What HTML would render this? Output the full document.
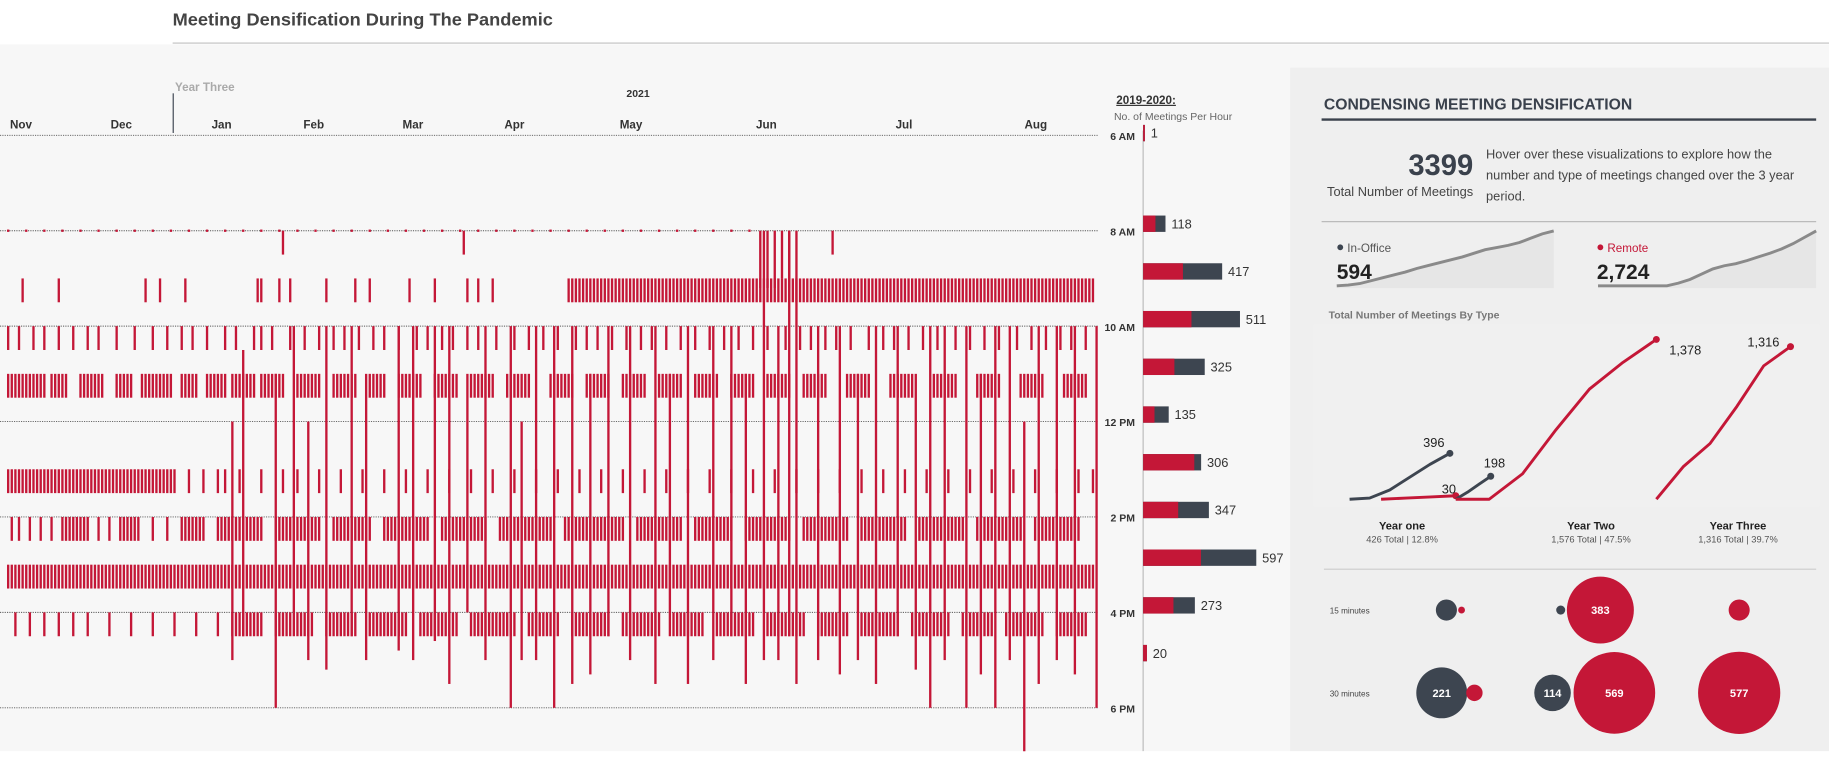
<!DOCTYPE html>
<html><head><meta charset="utf-8">
<style>
html,body{margin:0;padding:0;width:1829px;height:751px;overflow:hidden;background:#fff}
#root{position:absolute;left:0;top:0;width:1568px;height:644px;transform:scale(1.16645);transform-origin:0 0;font-family:"Liberation Sans",sans-serif}
svg text{font-family:"Liberation Sans",sans-serif}
</style></head><body>
<div id="root">
<svg id="svg" width="1568" height="644" viewBox="0 0 1568 644" xmlns="http://www.w3.org/2000/svg">
<rect x="0" y="38" width="1568" height="606" fill="#f7f7f7"/>
<rect x="1106" y="58" width="462" height="586" fill="#efefef"/>
<text x="148" y="22" font-size="15" font-weight="bold" fill="#444" textLength="326" lengthAdjust="spacingAndGlyphs">Meeting Densification During The Pandemic</text>
<line x1="148" y1="37" x2="1568" y2="37" stroke="#d6d6d6" stroke-width="1.5"/>
<g id="strip"></g>
<g id="hourbars"></g>
<g id="panel">
<text x="1135" y="94" font-size="13.5" font-weight="bold" fill="#3a414c">CONDENSING MEETING DENSIFICATION</text>
<line x1="1133" y1="102.5" x2="1557" y2="102.5" stroke="#3a414c" stroke-width="2"/>
<text x="1263" y="150" font-size="25" font-weight="bold" fill="#3a414c" text-anchor="end">3399</text>
<text x="1263" y="168" font-size="11" fill="#444" text-anchor="end">Total Number of Meetings</text>
<text font-size="11" fill="#444"><tspan x="1274" y="136">Hover over these visualizations to explore how the</tspan><tspan x="1274" y="154">number and type of meetings changed over the 3 year</tspan><tspan x="1274" y="172">period.</tspan></text>
<line x1="1133" y1="190" x2="1557" y2="190" stroke="#bbb" stroke-width="1"/>
<line x1="1135" y1="488" x2="1557" y2="488" stroke="#ccc" stroke-width="1"/>
<text x="1139" y="273" font-size="9" font-weight="bold" fill="#777">Total Number of Meetings By Type</text>
</g>
<g id="spark"></g>
<g id="typechart"></g>
<g id="bubbles"></g>
</svg>
</div>
<script>
// ===== Strip chart data =====
const monthLabels = ["Nov","Dec","Jan","Feb","Mar","Apr","May","Jun","Jul","Aug"];
const monthPos = [18,104,190,269,354,441,541,657,775,888];
const hourTicks = ["6 AM","8 AM","10 AM","12 PM","2 PM","4 PM","6 PM"];
const hourTickValues = [6,8,10,12,14,16,18];
const bandStarts = [9,10,11,13,14,15,16];
const bandRuns = [
 "4,14,38,42,49,69,70,75,78,88,96,100,111,118,127,130,134,155-300",
 "0,3,7,10,14,18,22,25,30,35,40,44,48,51,55,60,63,68,70,73,78,82,86,90,93,97,101,104,108,113,116,120,123,127,130,135,140,144,148,152,157,160,163,167,171,175,178,182,186,190,194,198,202,206,210,215,219,222,226,229,233,238,242,245,249,253,257,262,266,270,274,279,283,287,291,294,298",
 "0-10,12-16,20-26,30-34,37-45,48-52,55-60,62-68,70-76,80-86,90-96,100-104,108-114,118-124,128-134,138-144,150-156,160-166,170-176,180-186,190-196,200-206,210-216,220-226,232-238,244-250,256-262,268-274,280-286,292-298",
 "0-46,50,54,58,60,64,70,76,80,86,92,98,104,110,116,122,128,134,140,146,152,158,164,170,176,182,188,194,200,206,212,218,224,230,236,242,248,254,260,266,272,278,284,290,296,300",
 "1,3,6,9,12,15-22,25,28,31-36,40,44,48-54,58-70,74-86,90-100,104-116,120-132,136-150,154-170,174-186,190-200,204-216,220-232,236-248,252-264,268-280,284-296",
 "0-300",
 "2,6,10,14,18,22,28,34,40,46,52,58,62-70,74-84,88-96,100-110,114-124,128-140,144-152,156-166,170-180,184-192,196-206,210-220,224-232,236-246,250-260,264-272,276-286,290-298"
];
const longDay = [62,65,74,79,83,88,95,99,108,112,118,122,127,132,139,142,146,151,156,161,166,172,179,183,188,195,200,204,209,213,216,218,224,230,235,240,246,251,255,259,265,269,273,277,281,285,290,295,301];
const longStart = [12,10.5,11,10,12,10,10,11,10,10,10,10,11,10,10,12,10,10,10,11,10,10,10,11,10,10,10,11,8,10,8,8,10,10,11,10,10,11,10,10,10,11,10,10,12,10,10,10,10];
const longEnd = [17,16.5,18,16,17,17.2,16.5,17,16.8,17,16.6,17.5,16,17,18,17,17,18,17.5,17.3,16.5,17,17.5,16.5,17.5,17,16.5,17.5,17,17,16.5,17.5,17,17.3,17,17.5,16.5,17.2,18,17,18,17.3,18,17,19.2,17.5,17,17.3,18];
const tinyDay = [0,5,10,15,20,25,30,35,40,45,50,55,60,65,70,75,80,85,90,95,100,105,110,115,120,125,130,135,140,145,150,155,160,165,170,175,180,185,190,195,200,205];
const earlyDay = [76,126,208,210,212,214,216,228];
const earlyEnd = [8.5,8.5,9.2,9.2,9.2,9.0,9.2,8.5];

// ===== Hour bar data =====
const hourLabels = ["6 AM","8 AM","9 AM","10 AM","11 AM","12 PM","1 PM","2 PM","3 PM","4 PM","5 PM"];
const hourRemote = [1,65,210,255,165,60,270,185,305,160,20];
const hourTotal = [1,118,417,511,325,135,306,347,597,273,20];
const hourValueY = [6.1,8,9,10,11,12,13,14,15,16,17];

// ===== Panel data =====
const officeSpark = [0,2,6,14,22,30,38,48,56,64,72,80,90,100,106,112,120,132,144,152];
const remoteSpark = [0,0,0,0,0,0,0,5,12,22,32,38,42,48,55,62,70,80,92,104];
const y1Office = [0,10,80,190,300,396];
const y1Remote = [0,10,20,30];
const y2Office = [0,60,130,198];
const y2Remote = [0,0,220,600,950,1180,1378];
const y3Remote = [0,280,480,800,1150,1316];
const yearNames = ["Year one","Year Two","Year Three"];
const yearSubs = ["426 Total  |  12.8%","1,576 Total  |  47.5%","1,316 Total  |  39.7%"];
const bubbleRows = ["15 minutes","30 minutes"];
const bubbleRow = [0,0,0,0,0,1,1,1,1,1];
const bubbleType = ["office","remote","office","remote","remote","office","remote","office","remote","remote"];
const bubbleValue = [38,4,7,383,38,221,23,114,569,577];
const bubbleShown = [false,false,false,true,false,true,false,true,true,true];

const NS="http://www.w3.org/2000/svg";
const RED="#c41737", DARK="#3d4550";
function mk(tag, attrs, parent, text){const e=document.createElementNS(NS,tag);for(const k in attrs)e.setAttribute(k,attrs[k]);if(text!==undefined)e.textContent=text;parent.appendChild(e);return e;}
function parseRuns(s){const out=[];s.split(",").forEach(p=>{if(p.includes("-")){const [a,b]=p.split("-").map(Number);for(let i=a;i<=b;i++)out.push(i);}else out.push(Number(p));});return out;}

// scales
const xDay = i => 6 + i*3.1;
const yHour = h => 116 + (h-6)*40.9;

const strip=document.getElementById("strip");
// axis header
let t=mk("text",{x:150,y:78,"font-size":10,"font-weight":"bold",fill:"#aaa"},strip,"Year Three");


let l=mk("line",{x1:148.5,y1:80,x2:148.5,y2:114,stroke:"#3d4550","stroke-width":1},strip);


t=mk("text",{x:547,y:83,"font-size":9,"font-weight":"bold",fill:"#333","text-anchor":"middle"},strip,"2021");


monthLabels.forEach((m,i)=>{
  const e=mk("text",{x:monthPos[i],y:110,"font-size":10,"font-weight":"bold",fill:"#333","text-anchor":"middle"},strip,m);
  
  
});
hourTickValues.forEach((h,i)=>{
  const y=yHour(h);
  const g=mk("line",{x1:0,y1:y,x2:942,y2:y,stroke:"#555","stroke-width":0.8,"stroke-dasharray":"1,1"},strip);
  
  
  const e=mk("text",{x:973,y:y+4,"font-size":9,"font-weight":"bold",fill:"#333","text-anchor":"end"},strip,hourTicks[i]);
  
  
});
tinyDay.forEach(d=>{
  const r=mk("rect",{x:xDay(d),y:yHour(8)-1,width:2,height:2,fill:RED},strip);
  
  
});
earlyDay.forEach((d,i)=>{
  const r=mk("rect",{x:xDay(d),y:yHour(8),width:2,height:yHour(earlyEnd[i])-yHour(8),fill:RED},strip);
  
  
});
bandStarts.forEach((h,bi)=>{
  parseRuns(bandRuns[bi]).forEach(d=>{
    const r=mk("rect",{x:xDay(d),y:yHour(h),width:2,height:yHour(h+0.5)-yHour(h),fill:RED},strip);
    
    
  });
});
longDay.forEach((d,i)=>{
  const r=mk("rect",{x:xDay(d),y:yHour(longStart[i]),width:2,height:yHour(longEnd[i])-yHour(longStart[i]),fill:RED},strip);
  
  
});

// hour bars
const hb=document.getElementById("hourbars");
const hx0=980, hk=0.1625;
t=mk("text",{x:957,y:89,"font-size":10,"font-weight":"bold",fill:"#333","text-decoration":"underline"},hb,"2019-2020:");


t=mk("text",{x:955,y:103,"font-size":9,fill:"#666"},hb,"No. of Meetings Per Hour");


l=mk("line",{x1:hx0,y1:112,x2:hx0,y2:644,stroke:"#bbb","stroke-width":1},hb);


hourLabels.forEach((lab,i)=>{
  const yc=yHour(hourValueY[i])-6;
  const wr=Math.max(1.5,hourRemote[i]*hk), wt=Math.max(1.5,hourTotal[i]*hk);
  const d=mk("rect",{x:hx0,y:yc-7,width:wt,height:14,fill:DARK},hb);
  
  
  const r=mk("rect",{x:hx0,y:yc-7,width:wr,height:14,fill:RED},hb);
  
  
  const e=mk("text",{x:hx0+wt+5,y:yc+4,"font-size":11,fill:"#333"},hb,String(hourTotal[i]));
  
  
});

// sparklines
const sp=document.getElementById("spark");
function spark(vals,x0,x1,yb,yt,color,label,value,lx,name){
  const n=vals.length, max=Math.max(...vals);
  const pts=vals.map((v,i)=>[x0+(x1-x0)*i/(n-1), yb-(yb-yt)*v/max]);
  const a=mk("path",{d:"M"+x0+","+(yb+2)+" L"+pts.map(p=>p.join(",")).join(" L")+" L"+x1+","+(yb+2)+" Z",fill:"#e6e6e6"},sp);
  
  
  const p=mk("polyline",{points:pts.map(p=>p.join(",")).join(" "),fill:"none",stroke:"#8a8a8a","stroke-width":2.5},sp);
  
  
  const c=mk("circle",{cx:lx+3,cy:212,r:2.5,fill:color},sp);
  
  
  const t1=mk("text",{x:lx+9,y:216,"font-size":10,fill:color==RED?RED:"#555"},sp,label);
  
  
  const t2=mk("text",{x:lx,y:239,"font-size":18,"font-weight":"bold",fill:"#222"},sp,value);
  
  
}
spark(officeSpark,1146,1332,245,198,DARK,"In-Office","594",1146,'in-office-spark');
spark(remoteSpark,1370,1557,245,198,RED,"Remote","2,724",1369,'remote-spark');

// type chart
const tc=document.getElementById("typechart");
const bg=mk("rect",{x:1126,y:278,width:434,height:156,fill:"#f0f0f0"},tc);


const yT = v => 428 - v*(428-291)/1378;
function series(vals,x0,x1,color,label,lx,ly,name){
  const n=vals.length;
  const pts=vals.map((v,i)=>[x0+(x1-x0)*i/(n-1), yT(v)]);
  const p=mk("polyline",{points:pts.map(p=>p.join(",")).join(" "),fill:"none",stroke:color,"stroke-width":2.5,"stroke-linejoin":"round"},tc);
  
  
  const last=pts[n-1];
  const c=mk("circle",{cx:last[0],cy:last[1],r:3,fill:color},tc);
  
  
  const e=mk("text",{x:lx,y:ly,"font-size":11,fill:"#222"},tc,label);
  
  
}
series(y1Office,1157,1243,DARK,"396",1220,383,'year-one-office-line');
series(y1Remote,1184,1248,RED,"30",1236,423,'year-one-remote-line');
series(y2Office,1248,1278,DARK,"198",1272,401,'year-two-office-line');
series(y2Remote,1248,1420,RED,"1,378",1431,304,'year-two-remote-line');
series(y3Remote,1420,1535,RED,"1,316",1498,297,'year-three-remote-line');
[1202,1364,1490].forEach((cx,i)=>{
  const a=mk("text",{x:cx,y:454,"font-size":9.5,"font-weight":"bold",fill:"#222","text-anchor":"middle"},tc,yearNames[i]);
  
  
  const b=mk("text",{x:cx,y:465,"font-size":8,fill:"#555","text-anchor":"middle"},tc,yearSubs[i]);
  
  
});

// bubbles
const bb=document.getElementById("bubbles");
const rowY=[523,594];
const bubbleX=[1240,1253,1338,1372,1491,1236,1264,1331,1384,1491];
bubbleRows.forEach((r,i)=>{
  const e=mk("text",{x:1140,y:rowY[i]+3,"font-size":7,fill:"#444"},bb,r);
  
  
});
bubbleValue.forEach((v,i)=>{
  const r=1.467*Math.sqrt(v);
  const c=mk("circle",{cx:bubbleX[i],cy:rowY[bubbleRow[i]],r:r,fill:bubbleType[i]=="office"?DARK:RED},bb);
  
  
  if(bubbleShown[i]){
    const e=mk("text",{x:bubbleX[i],y:rowY[bubbleRow[i]]+3.5,"font-size":9.5,"font-weight":"bold",fill:"#fff","text-anchor":"middle"},bb,String(v));
    
    
  }
});
</script>
</body></html>
